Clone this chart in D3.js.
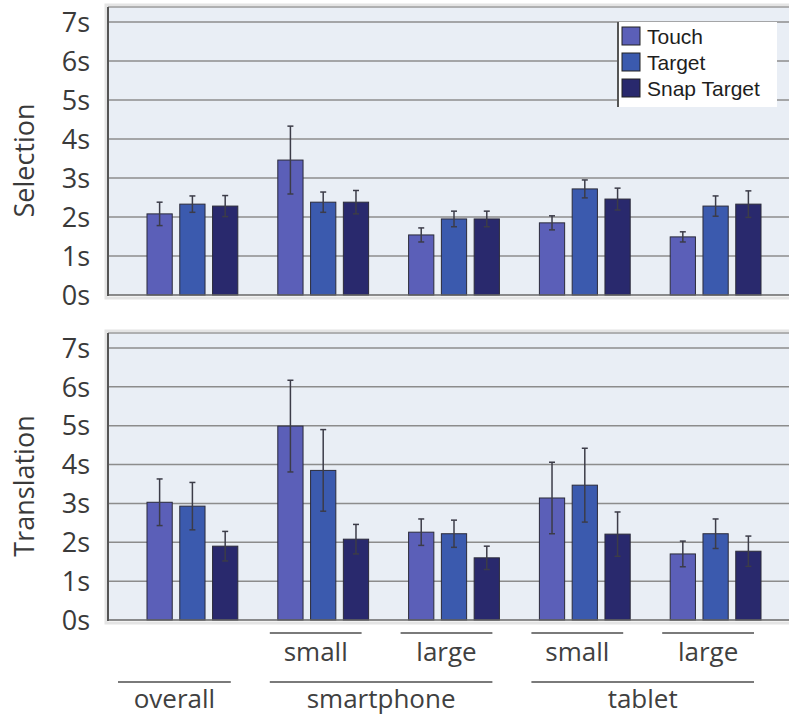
<!DOCTYPE html>
<html>
<head>
<meta charset="utf-8">
<script src="https://cdn.jsdelivr.net/npm/d3@7"></script>
<style>
  body { margin: 0; background: #fff; }
  svg { display: block; }
</style>
</head>
<body>
<div id="chart"></div>
<script>
// data (seconds)
const categories = ["overall", "sp-small", "sp-large", "tab-small", "tab-large"];
const series = ["Touch", "Target", "Snap Target"];
const colors = ["#5b5fb8", "#3b5aae", "#29296d"];

// rows = category, columns = series
const selMean = [
  [2.08, 2.33, 2.28],
  [3.46, 2.38, 2.38],
  [1.54, 1.95, 1.95],
  [1.85, 2.72, 2.46],
  [1.49, 2.28, 2.33]
];
const selErr = [
  [0.30, 0.21, 0.27],
  [0.87, 0.26, 0.30],
  [0.18, 0.20, 0.20],
  [0.18, 0.23, 0.28],
  [0.13, 0.26, 0.34]
];
const trMean = [
  [3.03, 2.93, 1.90],
  [4.99, 3.85, 2.08],
  [2.26, 2.22, 1.60],
  [3.14, 3.47, 2.21],
  [1.70, 2.22, 1.77]
];
const trErr = [
  [0.60, 0.61, 0.38],
  [1.18, 1.05, 0.38],
  [0.34, 0.35, 0.30],
  [0.92, 0.95, 0.57],
  [0.33, 0.38, 0.39]
];
const yTicks = [0, 1, 2, 3, 4, 5, 6, 7];
const subLabels = ["", "small", "large", "small", "large"];
const groups = [
  {name: "overall", from: "overall", to: "overall"},
  {name: "smartphone", from: "sp-small", to: "sp-large"},
  {name: "tablet", from: "tab-small", to: "tab-large"}
];

const w = 789, h = 715;
const plotLeft = 108;

const svg = d3.select("#chart").append("svg")
  .attr("width", w)
  .attr("height", h);

const x0 = d3.scaleBand()
  .domain(categories)
  .range([127, 781])
  .padding(0);

const x1 = d3.scaleBand()
  .domain(series)
  .range([0, x0.bandwidth()])
  .paddingInner(0.23)
  .paddingOuter(0.61);

const labelFont = "'Open Sans', sans-serif";

function panel(title, means, errs, top, y7, y0) {
  const y = d3.scaleLinear().domain([0, 7]).range([y0, y7]);
  const g = svg.append("g");

  // faint shadow + plot background
  g.append("rect")
    .attr("x", plotLeft - 2).attr("y", top - 2)
    .attr("width", w - plotLeft + 4).attr("height", y0 - top + 5)
    .attr("fill", "none").attr("stroke", "#e4e4e4").attr("stroke-width", 3);
  g.append("rect")
    .attr("x", plotLeft).attr("y", top)
    .attr("width", w - plotLeft).attr("height", y0 - top)
    .attr("fill", "#e9eef5");
  g.append("line")
    .attr("x1", plotLeft).attr("x2", w)
    .attr("y1", top).attr("y2", top)
    .attr("stroke", "#9a9a9a").attr("stroke-width", 1.5);

  // grid lines
  g.selectAll("line.grid")
    .data(yTicks.filter(d => d > 0))
    .enter().append("line")
    .attr("class", "grid")
    .attr("x1", plotLeft).attr("x2", w)
    .attr("y1", d => y(d)).attr("y2", d => y(d))
    .attr("stroke", "#8c8c8c").attr("stroke-width", 1.5);

  // tick labels
  g.selectAll("text.tick")
    .data(yTicks)
    .enter().append("text")
    .attr("class", "tick")
    .attr("x", 90)
    .attr("y", d => y(d))
    .attr("dy", "0.36em")
    .attr("text-anchor", "end")
    .attr("font-family", labelFont)
    .attr("font-size", 27)
    .attr("fill", "#3a3a3a")
    .text(d => d + "s");

  // axis title
  g.append("text")
    .attr("transform", `translate(25,${(y0 + y7) / 2 + 2}) rotate(-90)`)
    .attr("dy", "0.35em")
    .attr("text-anchor", "middle")
    .attr("font-family", labelFont)
    .attr("font-size", 27)
    .attr("fill", "#3a3a3a")
    .text(title);

  // bars
  const cat = g.selectAll("g.cat")
    .data(categories)
    .enter().append("g")
    .attr("class", "cat")
    .attr("transform", d => `translate(${x0(d)},0)`);

  cat.selectAll("rect")
    .data((d, i) => series.map((s, j) => ({s, j, v: means[i][j], e: errs[i][j]})))
    .enter().append("rect")
    .attr("x", d => x1(d.s))
    .attr("y", d => y(d.v))
    .attr("width", x1.bandwidth())
    .attr("height", d => y0 - y(d.v))
    .attr("fill", d => colors[d.j])
    .attr("stroke", "#2b2b3a")
    .attr("stroke-width", 1);

  // error bars
  const eb = cat.selectAll("g.err")
    .data((d, i) => series.map((s, j) => ({s, v: means[i][j], e: errs[i][j]})))
    .enter().append("g")
    .attr("class", "err")
    .attr("transform", d => `translate(${x1(d.s) + x1.bandwidth() / 2},0)`);
  eb.append("line")
    .attr("y1", d => y(d.v + d.e)).attr("y2", d => y(d.v - d.e))
    .attr("stroke", "#3c3c48").attr("stroke-width", 1.5);
  eb.append("line")
    .attr("x1", -3).attr("x2", 3)
    .attr("y1", d => y(d.v + d.e)).attr("y2", d => y(d.v + d.e))
    .attr("stroke", "#3c3c48").attr("stroke-width", 1.5);
  eb.append("line")
    .attr("x1", -3).attr("x2", 3)
    .attr("y1", d => y(d.v - d.e)).attr("y2", d => y(d.v - d.e))
    .attr("stroke", "#3c3c48").attr("stroke-width", 1.5);

  // axes
  g.append("line")
    .attr("x1", plotLeft).attr("x2", w)
    .attr("y1", y0).attr("y2", y0)
    .attr("stroke", "#666").attr("stroke-width", 1.5);
  g.append("line")
    .attr("x1", plotLeft).attr("x2", plotLeft)
    .attr("y1", top).attr("y2", y0 + 1)
    .attr("stroke", "#555").attr("stroke-width", 2);

  return y;
}

panel("Selection", selMean, selErr, 7, 22, 295);
panel("Translation", trMean, trErr, 333, 348, 620);

// legend
const leg = svg.append("g").attr("transform", "translate(618,22)");
leg.append("rect")
  .attr("width", 159).attr("height", 85)
  .attr("fill", "#fff");
leg.append("line")
  .attr("x1", 0).attr("x2", 0).attr("y1", 0).attr("y2", 85)
  .attr("stroke", "#555").attr("stroke-width", 2);
const li = leg.selectAll("g.item")
  .data(series)
  .enter().append("g")
  .attr("class", "item")
  .attr("transform", (d, i) => `translate(4,${5 + i * 26})`);
li.append("rect")
  .attr("width", 18).attr("height", 18)
  .attr("fill", (d, i) => colors[i])
  .attr("stroke", "#222").attr("stroke-width", 1);
li.append("text")
  .attr("x", 25).attr("y", 9)
  .attr("dy", "0.36em")
  .attr("font-family", "'Liberation Sans', Arial, sans-serif")
  .attr("font-size", 21)
  .attr("fill", "#1e1e1e")
  .text(d => d);

// category labels under the lower panel
const subStart = c => x0(c) + (c === "overall" ? -9 : 12);
const subEnd = c => x0(c) + x0.bandwidth() - 27;

const sub = svg.append("g");
categories.forEach((c, i) => {
  if (!subLabels[i]) return;
  sub.append("line")
    .attr("x1", subStart(c)).attr("x2", subEnd(c))
    .attr("y1", 633).attr("y2", 633)
    .attr("stroke", "#7a7a7a").attr("stroke-width", 2);
  sub.append("text")
    .attr("x", (subStart(c) + subEnd(c)) / 2)
    .attr("y", 652).attr("dy", "0.35em")
    .attr("text-anchor", "middle")
    .attr("font-family", labelFont)
    .attr("font-size", 26)
    .attr("fill", "#404040")
    .text(subLabels[i]);
});

groups.forEach(gr => {
  const a = subStart(gr.from), b = subEnd(gr.to);
  sub.append("line")
    .attr("x1", a).attr("x2", b)
    .attr("y1", 682).attr("y2", 682)
    .attr("stroke", "#7a7a7a").attr("stroke-width", 2);
  sub.append("text")
    .attr("x", (a + b) / 2)
    .attr("y", 699).attr("dy", "0.35em")
    .attr("text-anchor", "middle")
    .attr("font-family", labelFont)
    .attr("font-size", 26)
    .attr("fill", "#404040")
    .text(gr.name);
});
</script>
</body>
</html>
